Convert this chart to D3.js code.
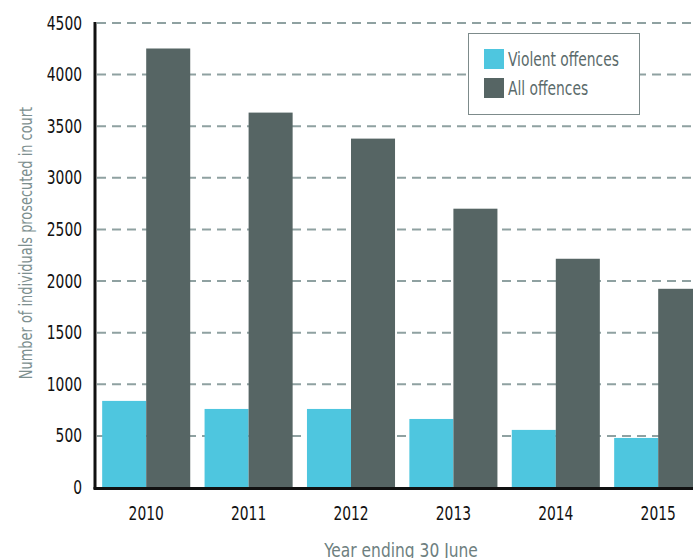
<!DOCTYPE html>
<html><head><meta charset="utf-8">
<script src="https://cdn.jsdelivr.net/npm/d3@7"></script>
<style>
html,body{margin:0;padding:0;background:#fff;overflow:hidden}
text{font-family:"DejaVu Sans Condensed","DejaVu Sans",sans-serif;font-stretch:condensed}
</style></head>
<body><svg id="c" width="693" height="558"></svg>
<script>
const years = ["2010","2011","2012","2013","2014","2015"];
const seriesNames = ["Violent offences","All offences"];
const violent = [839, 761, 761, 664, 558, 480];
const allOffences = [4253, 3632, 3380, 2701, 2216, 1925];
const yTicks = [0,500,1000,1500,2000,2500,3000,3500,4000,4500];
const colors = ["#4ec6df","#566564"];

(function(){
const svg = d3.select("#c");
const W = 693, H = 558;
const S = 0.81;
const mLeft = 95, mBottom = 487.5, mTop = 23;
const x = d3.scaleBand().domain(years).range([mLeft, mLeft + 6*102.4]).paddingInner(0.14).paddingOuter(0.07);
const xs = d3.scaleBand().domain(seriesNames).range([0, x.bandwidth()]);
const y = d3.scaleLinear().domain([0,4500]).range([mBottom, mTop]);

// gridlines
svg.append("g").selectAll("line").data(yTicks.filter(d=>d>0)).join("line")
  .attr("x1", mLeft+2).attr("x2", W).attr("y1", d=>y(d)).attr("y2", d=>y(d))
  .attr("stroke","#8fa1a1").attr("stroke-width",2).attr("stroke-dasharray","9,6");

// bars
const data = years.map((yr,i)=>({year:yr, vals:[violent[i], allOffences[i]]}));
const g = svg.append("g").selectAll("g").data(data).join("g")
  .attr("transform", d=>`translate(${x(d.year)},0)`);
g.selectAll("rect").data(d=>d.vals.map((v,j)=>({v, s:seriesNames[j], j}))).join("rect")
  .attr("x", d=>xs(d.s)).attr("width", xs.bandwidth())
  .attr("y", d=>y(d.v)).attr("height", d=>mBottom - y(d.v))
  .attr("fill", d=>colors[d.j]);

// axes
const yAxis = d3.axisLeft(y).tickValues(yTicks).tickSize(0).tickPadding(13).tickFormat(d3.format("d"));
const ya = svg.append("g").attr("transform",`translate(${mLeft},0)`).call(yAxis);
ya.select(".domain").remove();
ya.selectAll("text").attr("font-size",19).attr("fill","#111").attr("font-family",null)
  .attr("x", -13/S).attr("transform", `scale(${S},1)`);
svg.append("line").attr("x1",mLeft).attr("x2",mLeft).attr("y1",mTop-1).attr("y2",mBottom+1.5)
  .attr("stroke","#111").attr("stroke-width",3);

const xAxis = d3.axisBottom(x).tickSize(0).tickPadding(19);
const xa = svg.append("g").attr("transform",`translate(0,${mBottom})`).call(xAxis);
xa.select(".domain").remove();
xa.selectAll("text").attr("font-size",19).attr("fill","#111").attr("font-family",null)
  .attr("transform", `scale(${S},1)`);
svg.append("line").attr("x1",mLeft-1.5).attr("x2",W).attr("y1",mBottom+1).attr("y2",mBottom+1)
  .attr("stroke","#111").attr("stroke-width",3);

// axis titles
svg.append("text").attr("transform",`translate(32,243) rotate(-90) scale(0.8,1)`)
  .attr("text-anchor","middle").attr("font-size",18).attr("fill","#7d8f8f")
  .text("Number of individuals prosecuted in court");
svg.append("text").attr("transform",`translate(401,557) scale(0.86,1)`).attr("text-anchor","middle")
  .attr("font-size",20).attr("fill","#6e7f7f").text("Year ending 30 June");

// legend
const lg = svg.append("g");
lg.append("rect").attr("x",468.5).attr("y",33.5).attr("width",171).attr("height",81)
  .attr("fill","#fff").attr("stroke","#7d8b8b").attr("stroke-width",1);
seriesNames.forEach((s,i)=>{
  lg.append("rect").attr("x",484).attr("y",49+i*29).attr("width",20).attr("height",20).attr("fill",colors[i]);
  lg.append("text").attr("transform",`translate(508,${66+i*29}) scale(${S},1)`)
    .attr("font-size",19).attr("fill","#5b6b6b").text(s);
});
})();
</script></body></html>
